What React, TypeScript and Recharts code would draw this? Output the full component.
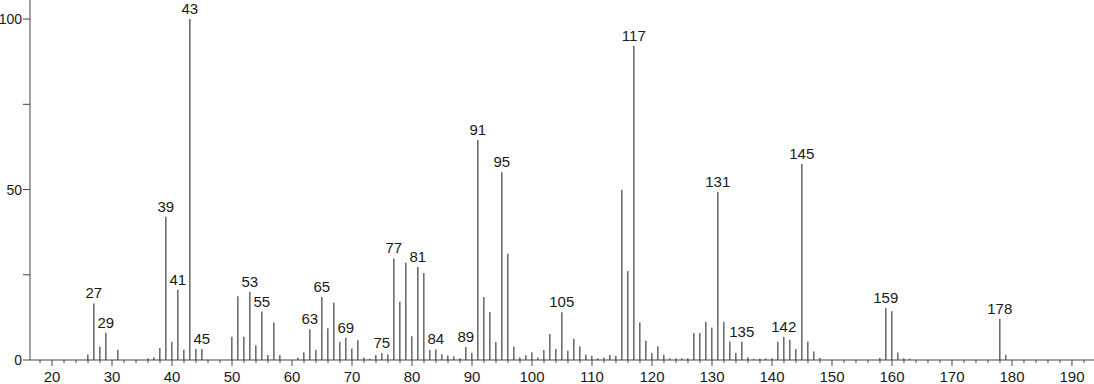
import React from 'react';
import { BarChart, Bar, XAxis, YAxis, LabelList } from 'recharts';

const masses = [
  26, 27, 28, 29, 31, 36, 37, 38, 39, 40, 41, 42, 43, 44, 45,
  50, 51, 52, 53, 54, 55, 56, 57, 58,
  61, 62, 63, 64, 65, 66, 67, 68, 69, 70, 71, 72, 73, 74, 75, 76, 77, 78, 79, 80,
  81, 82, 83, 84, 85, 86, 87, 88, 89, 90, 91, 92, 93, 94, 95, 96, 97, 98, 99, 100,
  101, 102, 103, 104, 105, 106, 107, 108, 109, 110, 111, 112, 113, 114, 115, 116, 117, 118, 119, 120,
  121, 122, 123, 124, 125, 126, 127, 128, 129, 130, 131, 132, 133, 134, 135, 136, 137, 138, 139, 140,
  141, 142, 143, 144, 145, 146, 147, 148,
  158, 159, 160, 161, 162, 163,
  178, 179,
];

const intensities = [
  1.6, 16.6, 3.9, 8.0, 3.0, 0.5, 0.8, 3.5, 42.0, 5.3, 20.6, 3.0, 100, 3.2, 3.2,
  6.8, 18.7, 6.8, 20.0, 4.3, 14.2, 1.5, 11.0, 1.5,
  0.7, 2.3, 9.0, 2.9, 18.5, 9.3, 16.8, 5.3, 6.5, 3.4, 5.8, 0.7, 0.4, 1.5, 2.0, 1.6, 29.8, 17.1, 28.5, 7.0,
  27.3, 25.5, 2.9, 3.1, 1.7, 1.3, 1.0, 0.5, 3.8, 2.1, 64.5, 18.5, 14.1, 5.3, 55.1, 31.2, 3.9, 0.7, 1.4, 2.3,
  0.7, 2.9, 7.6, 3.2, 14.0, 2.7, 6.2, 4.0, 1.6, 1.2, 0.5, 0.7, 1.5, 1.2, 49.9, 26.1, 92.1, 11.0, 5.7, 2.1,
  4.0, 1.5, 0.5, 0.5, 0.5, 0.5, 7.9, 7.9, 11.2, 9.5, 49.3, 11.2, 5.4, 2.1, 5.4, 0.8, 0.4, 0.4, 0.5, 0.5,
  5.4, 6.8, 5.9, 3.2, 57.5, 5.4, 2.5, 0.6,
  0.6, 15.2, 14.3, 2.2, 0.5, 0.4,
  12.1, 1.5,
];

const labelledPeaks = [
  27, 29, 39, 41, 43, 45, 53, 55, 63, 65, 69, 75, 77, 81, 84, 89, 91, 95,
  105, 117, 131, 135, 142, 145, 159, 178,
];

const majorTicks = [20, 30, 40, 50, 60, 70, 80, 90, 100, 110, 120, 130, 140, 150, 160, 170, 180, 190];
const xTicks = Array.from({ length: 88 }, (_, i) => 18 + i * 2);
const yTicks = [0, 25, 50, 75, 100];

const data = masses.map((m, i) => ({
  mz: m,
  intensity: intensities[i],
  label: labelledPeaks.includes(m) ? String(m) : '',
}));

const axisColor = '#444';
const textColor = '#1a1a1a';

function XTick(props: any) {
  const { x, y, payload } = props;
  const major = majorTicks.includes(payload.value);
  return (
    <g>
      <line x1={x} x2={x} y1={y} y2={y + (major ? 6 : 3)} stroke={axisColor} strokeWidth={1} />
      {major && (
        <text x={x} y={y + 22} textAnchor="middle" fontSize={15} fill={textColor}>
          {payload.value}
        </text>
      )}
    </g>
  );
}

export default function App() {
  return (
    <div
      style={{
        position: 'fixed',
        left: 0,
        top: 0,
        width: 1094,
        height: 384,
        background: '#fff',
        fontFamily: '"Liberation Sans", Arial, sans-serif',
      }}
    >
      <BarChart width={1094} height={384} data={data} margin={{ top: 0, right: 0, bottom: 0, left: 0 }}>
        <XAxis
          type="number"
          dataKey="mz"
          domain={[16.33, 193.67]}
          ticks={xTicks}
          interval={0}
          height={24}
          tickSize={0}
          tickMargin={0}
          tickLine={false}
          stroke={axisColor}
          tick={<XTick />}
          allowDataOverflow
        />
        <YAxis
          type="number"
          domain={[0, 105.6]}
          ticks={yTicks}
          interval={0}
          width={30}
          tickSize={7}
          tickMargin={1}
          stroke={axisColor}
          tick={{ fontSize: 14, fill: textColor }}
          tickFormatter={(v: number) => (v % 50 === 0 ? String(v) : '')}
          allowDataOverflow
        />
        <Bar dataKey="intensity" barSize={1.6} fill="#6e6e6e" isAnimationActive={false}>
          <LabelList dataKey="label" position="top" offset={5} fontSize={15} fill={textColor} />
        </Bar>
      </BarChart>
    </div>
  );
}
